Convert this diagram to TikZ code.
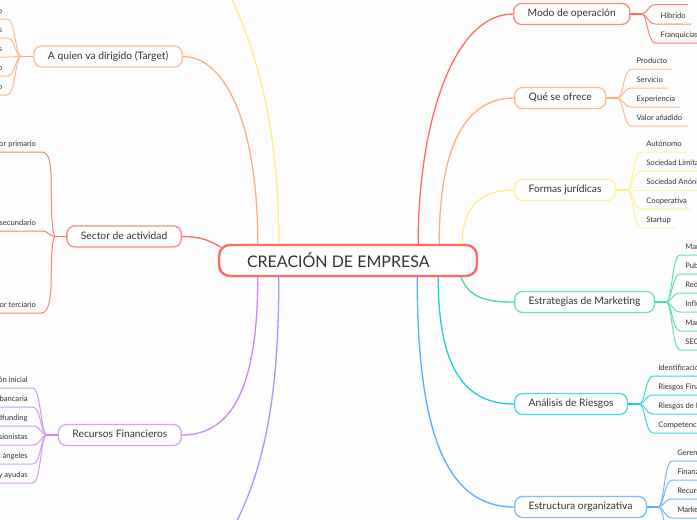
\documentclass[tikz,border=0pt]{standalone}
\usepackage{fontspec}
\setmainfont{Lato}
\usetikzlibrary{calc}
\definecolor{txt}{HTML}{333333}
\definecolor{bgc}{HTML}{FDFDFD}
\definecolor{cRed}{HTML}{FF6A63}
\definecolor{cOrange}{HTML}{FFAD7A}
\definecolor{cYellow}{HTML}{FFEE80}
\definecolor{cGreen}{HTML}{45DBA8}
\definecolor{cCyan}{HTML}{1ECFD9}
\definecolor{cBlue}{HTML}{5AADFF}
\definecolor{cPurple}{HTML}{C98AF0}
\definecolor{cViolet}{HTML}{9C9CFF}
\tikzset{
  rootbox/.style={draw=cRed, line width=2.4pt, rounded corners=11pt, fill=white,
    minimum width=258pt, minimum height=31pt, inner sep=0pt, text=txt,
    font=\fontsize{16}{19}\selectfont},
  mainbox/.style={draw=#1!80, line width=1.3pt, rounded corners=8pt, fill=white,
    text=txt, font=\fontsize{10.3}{12}\selectfont, inner xsep=14pt, inner ysep=0pt,
    minimum height=21pt, text height=7.4pt, text depth=2.2pt},
  conn/.style={draw=#1, line width=1.3pt},
  leafline/.style={draw=#1!85, line width=1pt},
  leaf/.style={inner xsep=5pt, inner ysep=4pt, text=txt,
    font=\fontsize{7.6}{9}\selectfont, text height=5.5pt, text depth=1.5pt}
}
\newcommand\rleaf[5]{%
  \node[leaf, anchor=south west] (#4) at ($(#2 |- 0,#3)+(14,0)$) {#5};
  \draw[leafline=#1] (#2) .. controls +(6,0) and +(-8,0) .. (#4.south west) -- (#4.south east);
}
\newcommand\lleaf[5]{%
  \node[leaf, anchor=south east] (#4) at ($(#2 |- 0,#3)+(-14,0)$) {#5};
  \draw[leafline=#1] (#2) .. controls +(-6,0) and +(8,0) .. (#4.south east) -- (#4.south west);
}
\begin{document}
\begin{tikzpicture}[x=1pt,y=-1pt]
\useasboundingbox (0,0) rectangle (697,520);
\clip (0,0) rectangle (697,520);
\fill[bgc] (0,0) rectangle (697,520);

% central node
\node[rootbox] (root) at (348,260.5) {\makebox[258pt][l]{\hspace{28pt}CREACIÓN DE EMPRESA}};

% main branch nodes
\node[mainbox=cOrange, anchor=east] (tg) at (183,56.5) {A quien va dirigido (Target)};
\node[mainbox=cRed, anchor=east] (sa) at (182,236.5) {Sector de actividad};
\node[mainbox=cPurple, anchor=east] (rf) at (182,435) {Recursos Financieros};
\node[mainbox=cRed, anchor=west] (mo) at (513,14) {Modo de operación};
\node[mainbox=cOrange, anchor=west] (qs) at (514,98) {Qué se ofrece};
\node[mainbox=cYellow, anchor=west] (fj) at (514,190) {Formas jurídicas};
\node[mainbox=cGreen, anchor=west] (em) at (514,302) {Estrategias de Marketing};
\node[mainbox=cCyan, anchor=west] (ar) at (514,404) {Análisis de Riesgos};
\node[mainbox=cBlue, anchor=west] (eo) at (514,507) {Estructura organizativa};

% off-canvas branch ends
\coordinate (yoff) at (200,-60);
\coordinate (voff) at (200,580);

% main connectors
\draw[conn=cOrange] (tg.east) .. controls +(42,0) and +(0,-120) .. ($(root.north west)+(40,0)$);
\draw[conn=cYellow] ($(root.north west)+(61,0)$) .. controls +(0,-135) and +(50,80) .. (yoff);
\draw[conn=cRed] (sa.east) .. controls +(22,0) and +(-10,-5) .. ($(root.north west)+(3.5,3.5)$);
\draw[conn=cPurple] (rf.east) .. controls +(50,0) and +(0,110) .. ($(root.south west)+(40,0)$);
\draw[conn=cViolet] ($(root.south west)+(61,0)$) .. controls +(0,134) and +(62,-80) .. (voff);
\draw[conn=cRed] (mo.west) .. controls +(-60,0) and +(0,-120) .. ($(root.north east)+(-60,0)$);
\draw[conn=cOrange] (qs.west) .. controls +(-50,0) and +(0,-95) .. ($(root.north east)+(-39,0)$);
\draw[conn=cYellow] (fj.west) .. controls +(-35,0) and +(0,-35) .. ($(root.north east)+(-16,0)$);
\draw[conn=cGreen] ($(root.south east)+(-17,0)$) .. controls +(8,22) and +(-25,0) .. (em.west);
\draw[conn=cCyan] ($(root.south east)+(-40,0)$) .. controls +(0,90) and +(-50,0) .. (ar.west);
\draw[conn=cBlue] ($(root.south east)+(-61,0)$) .. controls +(0,150) and +(-70,0) .. (eo.west);

% junctions
\coordinate (jmo) at ($(mo.east)+(11,0)$);
\coordinate (jqs) at ($(qs.east)+(11,0)$);
\coordinate (jfj) at ($(fj.east)+(11,0)$);
\coordinate (jem) at ($(em.east)+(11,0)$);
\coordinate (jar) at ($(ar.east)+(11,0)$);
\coordinate (jeo) at ($(eo.east)+(11,0)$);
\coordinate (jtg) at ($(tg.west)+(-12,0)$);
\coordinate (jsa) at ($(sa.west)+(-11,0)$);
\coordinate (jrf) at ($(rf.west)+(-11,0)$);
\draw[conn=cRed] (mo.east) -- (jmo);
\draw[conn=cOrange] (qs.east) -- (jqs);
\draw[conn=cYellow] (fj.east) -- (jfj);
\draw[conn=cGreen] (em.east) -- (jem);
\draw[conn=cCyan] (ar.east) -- (jar);
\draw[conn=cBlue] (eo.east) -- (jeo);
\draw[conn=cOrange] (tg.west) -- (jtg);
\draw[conn=cRed] (sa.west) -- (jsa);
\draw[conn=cPurple] (rf.west) -- (jrf);

% Modo de operacion
\rleaf{cRed}{jmo}{4.7}{mo0}{\phantom{Online}}
\rleaf{cRed}{jmo}{24}{mo1}{Hibrido}
\rleaf{cRed}{jmo}{43}{mo2}{Franquicias}
% Que se ofrece
\rleaf{cOrange}{jqs}{69}{qs1}{Producto}
\rleaf{cOrange}{jqs}{88}{qs2}{Servicio}
\rleaf{cOrange}{jqs}{107}{qs3}{Experiencia}
\rleaf{cOrange}{jqs}{126}{qs4}{Valor añadido}
% Formas juridicas
\rleaf{cYellow}{jfj}{152}{fj1}{Autónomo}
\rleaf{cYellow}{jfj}{171}{fj2}{Sociedad Limitada}
\rleaf{cYellow}{jfj}{190}{fj3}{Sociedad Anónima}
\rleaf{cYellow}{jfj}{209}{fj4}{Cooperativa}
\rleaf{cYellow}{jfj}{228}{fj5}{Startup}
% Estrategias de Marketing
\rleaf{cGreen}{jem}{255}{em1}{Marketing digital}
\rleaf{cGreen}{jem}{274}{em2}{Publicidad}
\rleaf{cGreen}{jem}{293}{em3}{Redes sociales}
\rleaf{cGreen}{jem}{312}{em4}{Influencers}
\rleaf{cGreen}{jem}{331}{em5}{Marketing de contenidos}
\rleaf{cGreen}{jem}{350}{em6}{SEO y SEM}
% Analisis de Riesgos
\rleaf{cCyan}{jar}{376}{ar1}{Identificación de riesgos}
\rleaf{cCyan}{jar}{395}{ar2}{Riesgos Financieros}
\rleaf{cCyan}{jar}{414}{ar3}{Riesgos de Mercado}
\rleaf{cCyan}{jar}{433}{ar4}{Competencia}
% Estructura organizativa
\rleaf{cBlue}{jeo}{461}{eo1}{Gerencia}
\rleaf{cBlue}{jeo}{480}{eo2}{Finanzas}
\rleaf{cBlue}{jeo}{499}{eo3}{Recursos Humanos}
\rleaf{cBlue}{jeo}{518}{eo4}{Marketing}
\rleaf{cBlue}{jeo}{537}{eo5}{\phantom{Operaciones}}
% Target
\lleaf{cOrange}{jtg}{19}{tg1}{Mercado masivo}
\lleaf{cOrange}{jtg}{38}{tg2}{Empresas}
\lleaf{cOrange}{jtg}{57}{tg3}{Particulares}
\lleaf{cOrange}{jtg}{76}{tg4}{Nicho específico}
\lleaf{cOrange}{jtg}{95}{tg5}{Público objetivo}
% Sector de actividad
\node[leaf, anchor=south east] (sa1) at ($(jsa |- 0,152)+(-14,0)$) {Sector primario};
\draw[leafline=cRed] (jsa) .. controls +(-3,0) and +(0,25) .. ++(-4,-50) .. controls +(0,-25) and +(8,0) .. (sa1.south east) -- (sa1.south west);
\lleaf{cRed}{jsa}{231}{sa2}{Sector secundario}
\node[leaf, anchor=south east] (sa3) at ($(jsa |- 0,313)+(-14,0)$) {Sector terciario};
\draw[leafline=cRed] (jsa) .. controls +(-3,0) and +(0,-20) .. ++(-4,40) .. controls +(0,20) and +(8,0) .. (sa3.south east) -- (sa3.south west);
% Recursos Financieros
\lleaf{cPurple}{jrf}{388}{rf1}{Inversión inicial}
\lleaf{cPurple}{jrf}{407}{rf2}{Financiación bancaria}
\lleaf{cPurple}{jrf}{426}{rf3}{Crowdfunding}
\lleaf{cPurple}{jrf}{445}{rf4}{Inversionistas}
\lleaf{cPurple}{jrf}{464}{rf5}{Inversores ángeles}
\lleaf{cPurple}{jrf}{483}{rf6}{Subvenciones y ayudas}
\end{tikzpicture}
\end{document}
